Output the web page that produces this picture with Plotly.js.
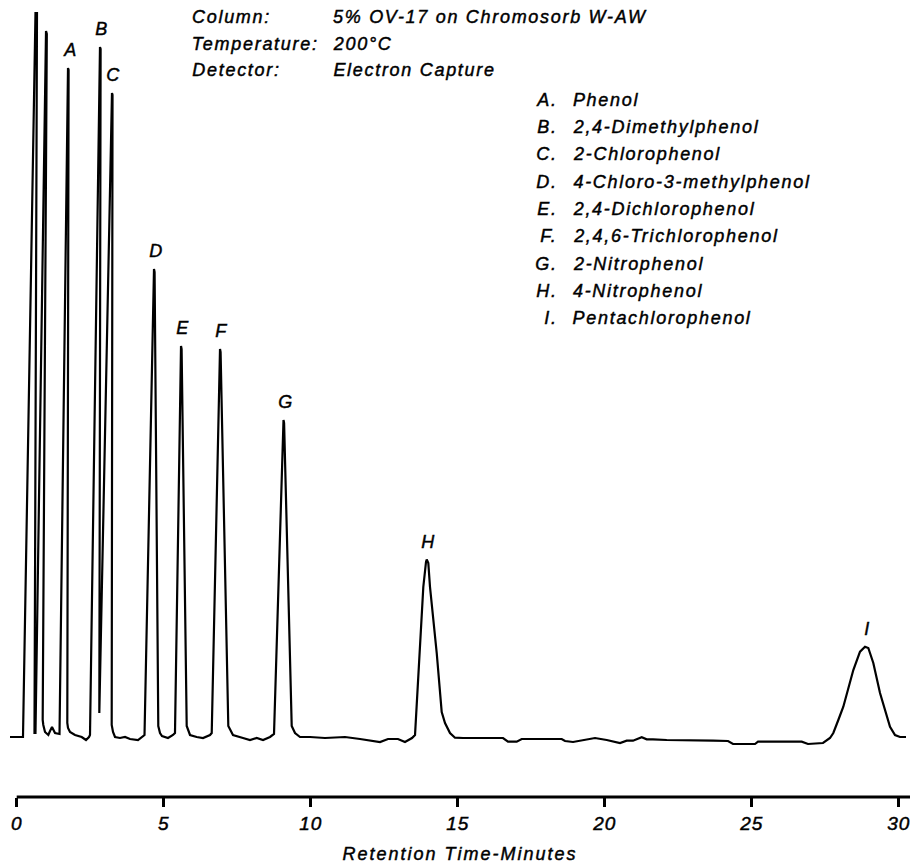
<!DOCTYPE html>
<html>
<head>
<meta charset="utf-8">
<script src="https://cdn.plot.ly/plotly-3.0.1.min.js"></script>
<style>
html,body{margin:0;padding:0;background:#fff;}
#chart{width:912px;height:867px;}
#chart .annotation-text{letter-spacing:1.7px;stroke:#000;stroke-width:0.45px;}
#chart .xtick text{letter-spacing:1px;stroke:#000;stroke-width:0.45px;}
#chart .xtitle{letter-spacing:2px;stroke:#000;stroke-width:0.45px;}
</style>
</head>
<body>
<div id="chart"></div>
<script>
// Retention time (minutes) and detector signal (arbitrary units, baseline = 0)
const timeMin = [
  -0.228, 0.214, 0.639, 0.690, 0.605, 0.639, 0.997, 1.024, 0.884, 0.905,
  0.963, 1.075, 1.133, 1.201, 1.303, 1.415, 1.456, 1.745, 1.765, 1.721,
  1.745, 1.813, 1.983, 2.211, 2.357, 2.459, 2.493, 2.833, 2.854, 2.810,
  3.241, 3.259, 3.231, 3.276, 3.344, 3.514, 3.684, 3.854, 4.126, 4.252,
  4.347, 4.670, 4.690, 4.816, 4.874, 4.942, 5.146, 5.316, 5.384, 5.589,
  5.609, 5.782, 5.895, 6.122, 6.337, 6.575, 6.633, 6.915, 6.935, 7.197,
  7.357, 7.697, 7.935, 8.163, 8.378, 8.616, 8.752, 9.075, 9.095, 9.354,
  9.466, 9.636, 9.976, 10.486, 11.167, 11.677, 12.357, 12.629, 12.969, 13.207,
  13.446, 13.548, 13.718, 13.830, 13.922, 13.946, 14.000, 14.058, 14.286, 14.456,
  14.568, 14.738, 14.908, 15.180, 16.541, 16.711, 17.007, 17.177, 18.537, 18.650,
  18.922, 19.262, 19.670, 20.068, 20.520, 20.748, 20.962, 21.259, 21.429, 21.643,
  22.109, 23.684, 24.194, 24.364, 25.112, 25.214, 26.701, 26.915, 27.425, 27.663,
  27.776, 27.946, 28.116, 28.456, 28.684, 28.854, 28.966, 29.136, 29.364, 29.704,
  29.874, 30.044, 30.248
];
const signal = [
  1, 1, 725, 725, 5, 5, 707, 704, 18, 13,
  6, 3, 7, 11, 5, 4, 4, 670, 668, 15,
  10, 6, 3, 1, -2, 1, 3, 691, 689, 25,
  645, 643, 13, 6, 1, 0, 1, -1, -2, 1,
  3, 469, 466, 12, 5, 2, 0, 3, 5, 392,
  389, 12, 3, 1, 0, 3, 5, 389, 386, 12,
  3, 0, -2, 0, -2, 1, 4, 318, 315, 12,
  5, 1, 1, 0, 1, -1, -4, -1, -1, -4,
  0, 3, 85, 151, 176, 178.5, 175, 151, 85, 26,
  15, 5, 0.3, 0, 0, -3.7, -3.7, -1, -1, -3,
  -4, -2, 0, -2, -5, -2.7, -2.7, 0.7, -1.3, -1.3,
  -2, -2.7, -3, -6, -6, -3.7, -3.7, -6, -5, 0,
  5, 18, 31.3, 68, 86.3, 91.3, 90, 75, 45, 11.3,
  3, 1, 1
];

// Peak identification
const peakLetters = ['A', 'B', 'C', 'D', 'E', 'F', 'G', 'H', 'I'];
const peakTimes   = [1.745, 2.833, 3.241, 4.670, 5.589, 6.915, 9.075, 13.946, 28.854];
const peakHeights = [670, 691, 645, 469, 392, 389, 318, 178.5, 91.3];
const compounds = [
  'Phenol', '2,4-Dimethylphenol', '2-Chlorophenol', '4-Chloro-3-methylphenol',
  '2,4-Dichlorophenol', '2,4,6-Trichlorophenol', '2-Nitrophenol', '4-Nitrophenol',
  'Pentachlorophenol'
];

// Conditions block
const conditionLabels = ['Column:', 'Temperature:', 'Detector:'];
const conditionValues = ['5% OV-17 on Chromosorb W-AW', '200°C', 'Electron Capture'];

const xTicks = [0, 5, 10, 15, 20, 25, 30];
const xTitle = 'Retention Time-Minutes';

const FONT = 'Liberation Sans, Arial, Helvetica, sans-serif';
const SPACING = 1.7; // must match CSS letter-spacing of .annotation-text
const W = 912, H = 867;
const M = {l: 10, r: 2, t: 0, b: 70};
const PW = W - M.l - M.r, PH = H - M.t - M.b;
const px = x => (x - M.l) / PW;
const py = y => (PH + M.t - y) / PH;
const italic = (size) => ({family: FONT, size: size, color: '#000', style: 'italic'});

// paper-positioned text with compensation for CSS letter spacing
function textAt(text, xPix, yPix, anchor) {
  const n = text.length;
  const shift = anchor === 'left' ? n * SPACING / 2 : -(n * SPACING / 2 - SPACING);
  return {x: px(xPix), y: py(yPix), xref: 'paper', yref: 'paper', text: text,
    showarrow: false, xanchor: anchor, yanchor: 'middle', xshift: shift, font: italic(18)};
}

const annotations = [];
peakLetters.forEach((L, i) => {
  annotations.push({
    x: peakTimes[i], y: peakHeights[i], xref: 'x', yref: 'y',
    text: L, showarrow: false, xanchor: 'center', yanchor: 'middle',
    yshift: 18, xshift: 2, font: italic(18)
  });
});
conditionLabels.forEach((t, i) => {
  const yy = 17 + i * 26.5;
  annotations.push(textAt(t, 190, yy, 'left'));
  annotations.push(textAt(conditionValues[i], 331, yy, 'left'));
});
compounds.forEach((c, i) => {
  const yy = 100 + i * 27.25;
  annotations.push(textAt(peakLetters[i] + '.', 558, yy, 'right'));
  annotations.push(textAt(c, 571, yy, 'left'));
});

const yRange = [-59, 738];
const xRange = [-0.228, 30.384];

const data = [{
  x: timeMin, y: signal, type: 'scatter', mode: 'lines',
  line: {color: '#000', width: 2.2}, hoverinfo: 'skip'
}];

const layout = {
  width: W, height: H,
  margin: M,
  paper_bgcolor: '#fff', plot_bgcolor: '#fff',
  showlegend: false,
  xaxis: {
    range: xRange, showline: false, showgrid: false, zeroline: false,
    ticks: 'outside', ticklen: 9, tickwidth: 2.5, tickcolor: '#000',
    tickvals: xTicks, ticktext: xTicks.map(String),
    tickfont: italic(19),
    title: {text: xTitle, font: italic(18), standoff: 14},
    automargin: false
  },
  yaxis: {range: yRange, visible: false, showgrid: false, zeroline: false, fixedrange: true},
  shapes: [{
    type: 'line', xref: 'x', yref: 'paper', x0: 0, x1: xRange[1], y0: 0, y1: 0,
    line: {color: '#000', width: 3}
  }],
  annotations: annotations
};

Plotly.newPlot('chart', data, layout, {displayModeBar: false, staticPlot: true});
</script>
</body>
</html>
